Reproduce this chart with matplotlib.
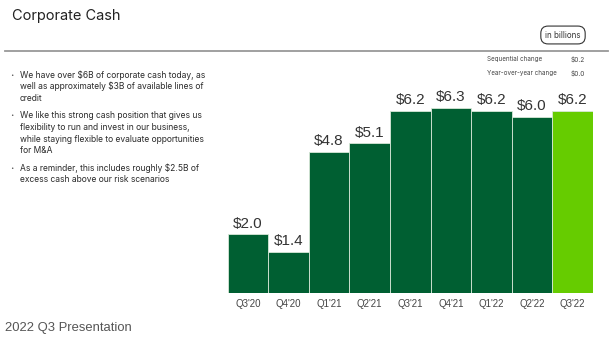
import matplotlib
matplotlib.use("Agg")
import matplotlib.pyplot as plt
from matplotlib.lines import Line2D

quarters = ["Q3'20", "Q4'20", "Q1'21", "Q2'21", "Q3'21", "Q4'21", "Q1'22", "Q2'22", "Q3'22"]
cash = [2.0, 1.4, 4.8, 5.1, 6.2, 6.3, 6.2, 6.0, 6.2]
bar_labels = ["$2.0", "$1.4", "$4.8", "$5.1", "$6.2", "$6.3", "$6.2", "$6.0", "$6.2"]

bullets = [
    ["We have over $6B of corporate cash today, as",
     "well as approximately $3B of available lines of",
     "credit"],
    ["We like this strong cash position that gives us",
     "flexibility to run and invest in our business,",
     "while staying flexible to evaluate opportunities",
     "for M&A"],
    ["As a reminder, this includes roughly $2.5B of",
     "excess cash above our risk scenarios"],
]
change_rows = [("Sequential change", "$0.2"), ("Year-over-year change", "$0.0")]

DARK = "#005f32"
LIGHT = "#66cc00"
TXT = "#333333"

W, H = 614, 346
fig = plt.figure(figsize=(W / 100, H / 100), dpi=100)


def px(x, y):
    return x / W, 1 - y / H


# header
fig.text(*px(12, 16), "Corporate Cash", fontsize=10.5, family="Inter",
         color="#222222", va="center", ha="left")
fig.add_artist(Line2D([5 / W, 608 / W], [1 - 51 / H] * 2, color="#999999",
                      lw=1.3, transform=fig.transFigure))
fig.text(*px(563, 35), "in billions", fontsize=5.8, family="Inter", color="#333333",
         ha="center", va="center",
         bbox=dict(boxstyle="round,pad=0.55,rounding_size=0.9", fc="white",
                   ec="#333333", lw=0.8))

# change table
for i, (name, val) in enumerate(change_rows):
    y = 59 + i * 14
    fig.text(*px(487, y), name, fontsize=4.5, family="Inter", color="#444444",
             va="center", ha="left")
    fig.text(*px(571, y), val, fontsize=4.7, family="Inter", color="#444444",
             va="center", ha="left")

# bullet text
y = 75
for lines in bullets:
    fig.text(*px(10, y), "•", fontsize=4, color="#555555", va="center", ha="left")
    for ln in lines:
        fig.text(*px(20, y), ln, fontsize=6.1, family="Inter", color="#2a2a2a",
                 va="center", ha="left")
        y += 11.6
    y += 6

# bars
ax = fig.add_axes([227.5 / W, 53 / H, 365.5 / W, 205.8 / H])
colors = [DARK] * (len(cash) - 1) + [LIGHT]
x = range(len(cash))
bars = ax.bar(x, cash, width=1.0, color=colors, edgecolor="#d8e8d8", linewidth=0.6)
for b, lab in zip(bars, bar_labels):
    ax.annotate(lab, (b.get_x() + b.get_width() / 2, b.get_height()),
                xytext=(0, 2.5), textcoords="offset points", ha="center",
                va="bottom", fontsize=11, family="Liberation Sans", color=TXT)
ax.set_xlim(-0.5, len(cash) - 0.5)
ax.set_ylim(0, 7)
ax.set_xticks(list(x))
ax.set_xticklabels(quarters, fontsize=7, family="Liberation Sans", color="#444444")
ax.tick_params(axis="x", length=0, pad=4)
ax.set_yticks([])
for s in ax.spines.values():
    s.set_visible(False)

# footer
fig.text(*px(5, 328), "2022 Q3 Presentation", fontsize=9.4, family="Liberation Sans",
         color="#555555", va="center", ha="left")

fig.savefig("out.png", dpi=100)
